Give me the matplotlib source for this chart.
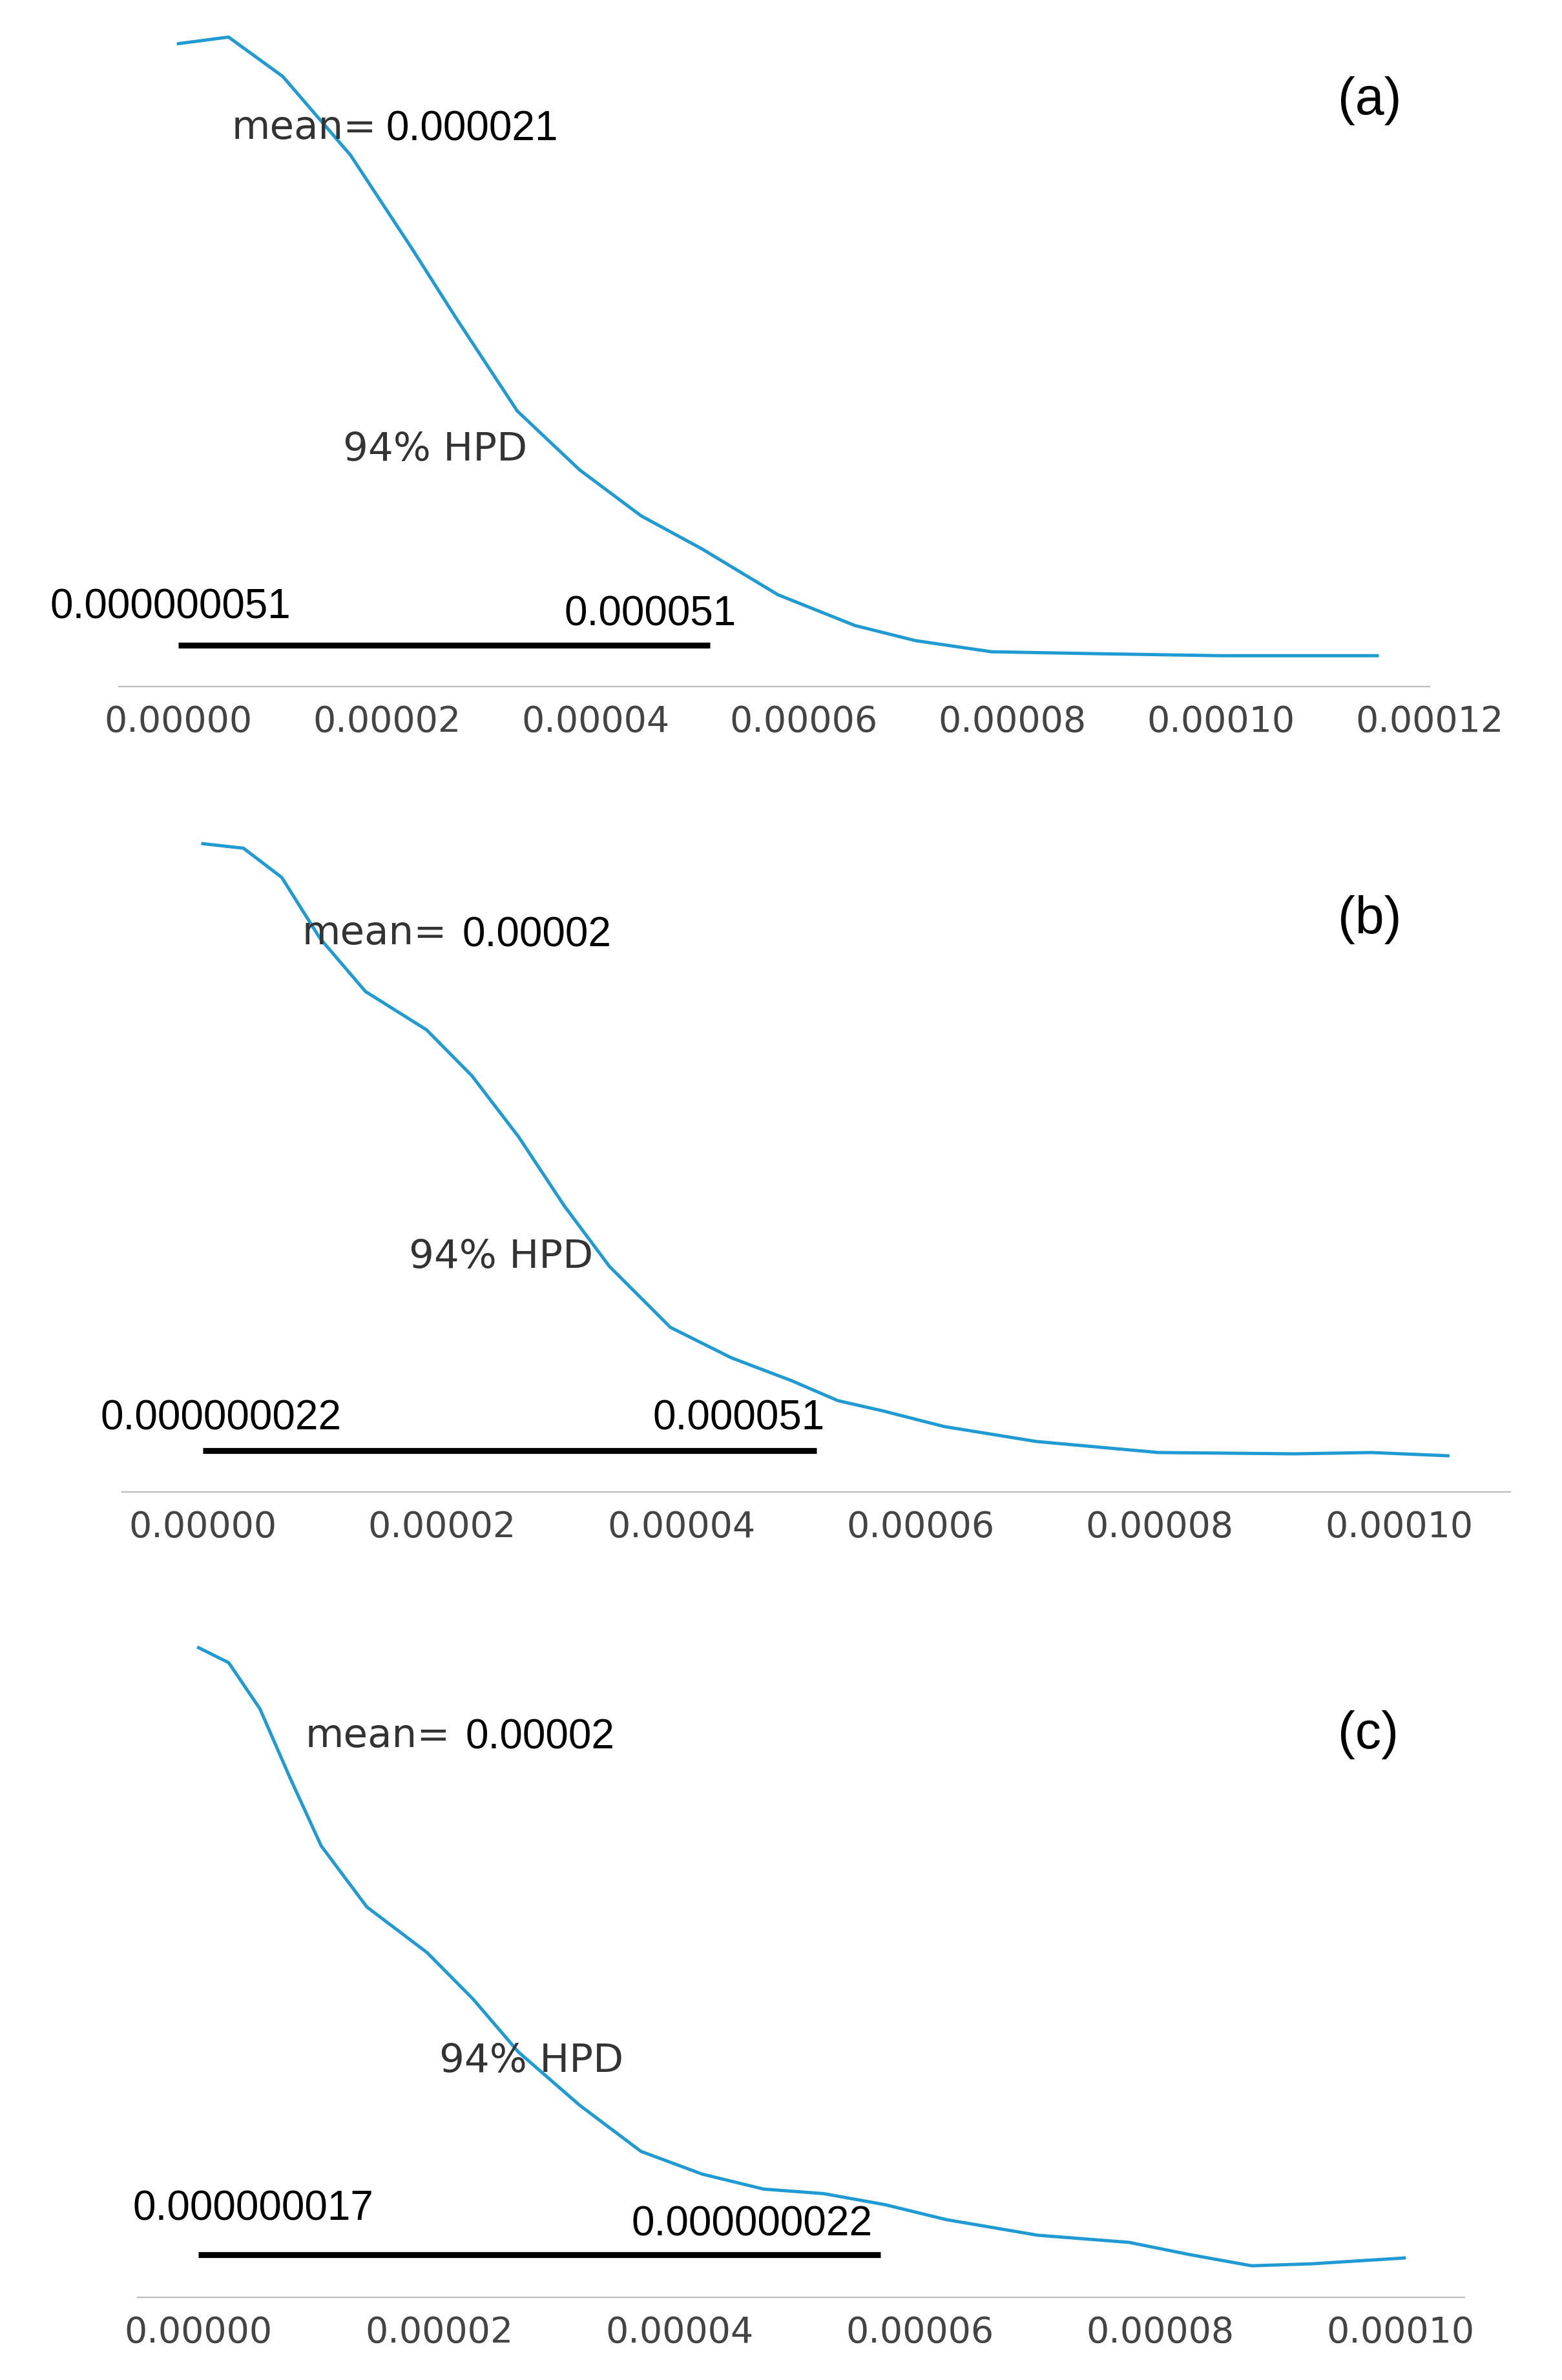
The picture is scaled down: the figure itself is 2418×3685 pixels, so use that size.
#!/usr/bin/env python3
"""Posterior density plots (a), (b), (c) with 94% HPD bars."""

import matplotlib

matplotlib.use("Agg")
import matplotlib.pyplot as plt

# x values in units of 1e-5
a_x = [0, 0.48, 1.0, 1.65, 2.23, 2.67, 3.25, 3.85, 4.44, 5.02, 5.75, 6.49, 7.07, 7.8, 8.83, 10.0, 11.5]
a_y = [0.98, 0.99, 0.93, 0.81, 0.67, 0.56, 0.42, 0.33, 0.26, 0.21, 0.14, 0.093, 0.07, 0.053, 0.05, 0.047, 0.047]
b_x = [0, 0.34, 0.66, 0.98, 1.36, 1.87, 2.25, 2.64, 3.02, 3.4, 3.91, 4.42, 4.92, 5.31, 5.69, 6.2,
       6.97, 7.99, 9.13, 9.77, 10.41]
b_y = [1.0, 0.993, 0.948, 0.854, 0.772, 0.713, 0.642, 0.548, 0.442, 0.348, 0.254, 0.207, 0.172,
       0.141, 0.125, 0.101, 0.078, 0.061, 0.059, 0.061, 0.056]
c_x = [0, 0.25, 0.51, 0.76, 1.02, 1.4, 1.9, 2.28, 2.66, 3.17, 3.68, 4.19, 4.7, 5.2, 5.71, 6.22,
       6.98, 7.74, 8.25, 8.76, 9.26, 10.03]
c_y = [1.0, 0.977, 0.906, 0.8, 0.695, 0.601, 0.531, 0.46, 0.378, 0.296, 0.225, 0.19, 0.167, 0.16,
       0.143, 0.12, 0.096, 0.085, 0.066, 0.049, 0.052, 0.061]

hpd_high = [5.1, 5.13, 5.67]
hpd_y = [0.063, 0.064, 0.066]
xticks = [[0, 2, 4, 6, 8, 10, 12], [0, 2, 4, 6, 8, 10], [0, 2, 4, 6, 8, 10]]

mean_vals = ["0.000021", "0.00002", "0.00002"]
low_labels = ["0.000000051", "0.000000022", "0.000000017"]
high_labels = ["0.000051", "0.000051", "0.000000022"]
panel_tags = ["(a)", "(b)", "(c)"]

W, H = 1024, 1560
BLUE = "#1f9ad2"
GRAY = "#333333"

# axes boxes in reference pixels: left, right, top, bottom, x at left, x at right
boxes = [(78, 937, 20, 450, -0.571, 12.0),
         (80, 990, 553, 978, -0.675, 10.93),
         (90, 960, 1080, 1506, -0.51, 10.53)]
# text positions in reference pixels
mean_pos = [(152, 253, 84), (198, 303, 612), (200, 305, 1138)]
hpd_pos = [(225, 295), (268, 824), (288, 1351)]
low_pos = [(33, 398), (66, 930), (87, 1448)]
high_pos = [(370, 403), (428, 930), (414, 1458)]
tag_pos = [(877, 66), (877, 603), (877, 1137)]

fig = plt.figure(figsize=(12.09, 18.425), dpi=200)


def ftext(px, py, s, **kw):
    fig.text(px / W, 1 - py / H, s, va="center", **kw)


for i, (xs, ys) in enumerate([(a_x, a_y), (b_x, b_y), (c_x, c_y)]):
    l, r, t, b, x0, x1 = boxes[i]
    ax = fig.add_axes([l / W, 1 - b / H, (r - l) / W, (b - t) / H])
    ax.plot([v * 1e-5 for v in xs], ys, color=BLUE, lw=1.8, clip_on=False)
    ax.hlines(hpd_y[i], 0, hpd_high[i] * 1e-5, color="black", lw=3.3)
    ax.set_xlim(x0 * 1e-5, x1 * 1e-5)
    ax.set_ylim(0, 1)
    ax.set_xticks([v * 1e-5 for v in xticks[i]])
    ax.set_xticklabels([f"{v * 1e-5:.5f}" for v in xticks[i]])
    ax.set_yticks([])
    for side in ("left", "right", "top"):
        ax.spines[side].set_visible(False)
    ax.spines["bottom"].set_color("#bbbbbb")
    ax.tick_params(axis="x", length=0, pad=10, labelsize=20, labelcolor="#444444")
    ax.patch.set_alpha(0)

    mx, nx, my = mean_pos[i]
    ftext(mx, my, "mean=", ha="left", fontsize=22, color=GRAY)
    ftext(nx, my + 1, mean_vals[i], ha="left", fontsize=23, color="black", family="Liberation Sans")
    ftext(*hpd_pos[i], "94% HPD", ha="left", fontsize=22, color=GRAY)
    ftext(*low_pos[i], low_labels[i], ha="left", fontsize=23, color="black", family="Liberation Sans")
    ftext(*high_pos[i], high_labels[i], ha="left", fontsize=23, color="black", family="Liberation Sans")
    ftext(*tag_pos[i], panel_tags[i], ha="left", fontsize=29, color="black", family="Liberation Sans")

fig.savefig("out.png", dpi=200)
